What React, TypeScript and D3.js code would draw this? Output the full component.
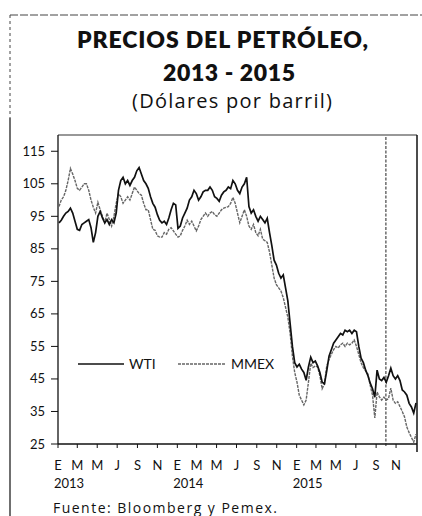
import React from "react";
import * as d3 from "d3";

const WTI: number[] = [
  93, 93.8, 95, 96, 96.5, 97.5, 96, 93.5, 91, 90.7,
  92.5, 93, 93.5, 94, 91.5, 87, 90, 95, 96.5, 94.5,
  93, 94, 92.5, 94, 93, 96, 103, 106, 107, 105,
  106, 104.5, 106, 107, 109, 110, 108, 106, 105, 103.6,
  101, 99, 97.8, 95.5, 93.8, 93, 93.5, 92.5, 94.5, 97,
  99, 98.5, 91.3, 92, 94.5, 96, 97.5, 100, 101, 103,
  102, 100, 101, 102.5, 103, 103, 104, 103, 101, 100.5,
  99.6, 101.5, 102.5, 103, 104, 103.5, 106, 105, 103, 102,
  104, 105, 107, 98, 96, 97, 95, 93.5, 95, 94,
  93, 94.4, 90, 86, 81.5, 80, 77.5, 76, 77, 73,
  69, 62, 55, 50, 48.7, 49.5, 48, 47, 44.6, 48.7,
  51.7, 50, 50.5, 49, 47, 44, 43.5, 47.5, 52, 54,
  56, 57, 58, 59, 58.5, 60, 59.5, 60, 59, 60,
  59.5, 55, 51.4, 50, 47.7, 46, 43.7, 42, 39.4, 47.7,
  45, 44.5, 45.5, 44, 46, 48.3, 46, 45, 46, 44.5,
  41.6, 41, 40, 37.5, 36.4, 34.5, 37.6,
];

const MMEX: number[] = [
  98, 100, 101, 103, 106, 109.7, 108, 106, 103.6, 103,
  104, 105, 105, 103, 100, 97.8, 96, 99.3, 97, 95,
  93, 96, 94, 92, 95, 99, 102, 101, 99, 100,
  101, 100, 102, 104, 103, 102, 101.5, 99, 97, 97,
  94, 91, 90.7, 89, 88.6, 88.6, 90, 89.5, 91, 91.5,
  90.5, 89.5, 88.6, 89, 90.7, 92, 93.8, 92.5, 93.5, 92,
  90.5, 92, 94, 95, 96, 95, 96, 96.5, 95.5, 95,
  96, 97, 97.5, 97.8, 98, 99, 100.8, 99, 96, 93,
  95, 97, 95, 92, 91, 92.5, 90, 89, 91, 88,
  87.5, 87, 84, 80, 76, 74, 73, 72, 70, 67,
  64, 59, 52, 47, 44, 40, 38.5, 37, 38.5, 44,
  49.8, 48.5, 49, 48.7, 46, 42, 43.5, 49, 51, 52.5,
  54, 55, 54.5, 55.5, 56, 55, 56, 55.5, 56, 57,
  55, 52.5, 50, 48.5, 47.5, 46.5, 43, 40, 33, 41,
  39.5, 38.5, 39.4, 38.5, 39, 42.2, 38.5, 37.5, 38, 36.5,
  35, 33.3, 30.2, 28.5, 27, 25.6, 28,
];

const Y_TICKS = [25, 35, 45, 55, 65, 75, 85, 95, 105, 115];
const MONTH_LABELS = ["E", "M", "M", "J", "S", "N"];
const YEARS = ["2013", "2014", "2015"];
const TITLE1 = "PRECIOS DEL PETRÓLEO,";
const TITLE2 = "2013 - 2015";
const SUBTITLE = "(Dólares por barril)";
const SOURCE = "Fuente: Bloomberg y Pemex.";
const MARKER_DATE = new Date(2015, 9, 1);

const FONT = "Lato, 'Open Sans', sans-serif";
const WIDE = "'Open Sans', Lato, sans-serif";

export default function App() {
  const left = 58, right = 416, top = 135, bottom = 444;
  const x = d3.scaleTime().domain([new Date(2013, 0, 1), new Date(2016, 0, 1)]).range([left, right]);
  const y = d3.scaleLinear().domain([25, 120]).range([bottom, top]);
  const start = new Date(2013, 0, 4);
  const dateAt = (i: number) => d3.timeDay.offset(start, i * 7);
  const line = d3.line<number>().x((_, i) => x(dateAt(i))).y((v) => y(v));
  const ticks = d3.timeMonth.every(2)!.range(new Date(2013, 0, 1), new Date(2016, 0, 1));

  return (
    <svg width={422} height={516} style={{ position: "absolute", left: 0, top: 0, background: "#fff" }} fontFamily={FONT}>
      {/* page border */}
      <line x1={10} y1={15} x2={422} y2={15} stroke="#444" strokeWidth={1} strokeDasharray="8,2" />
      <line x1={10} y1={15} x2={10} y2={118} stroke="#444" strokeWidth={1} strokeDasharray="3,3" />
      <line x1={10} y1={118} x2={10} y2={516} stroke="#222" strokeWidth={1.3} />

      <text x={77} y={48} fontSize={23} fontWeight={800} fill="#111" textLength={291} lengthAdjust="spacing">{TITLE1}</text>
      <text x={163} y={81} fontSize={23} fontWeight={800} fill="#111" textLength={132} lengthAdjust="spacing">{TITLE2}</text>
      <text x={132} y={108} fontSize={20} fontFamily={WIDE} fill="#111" textLength={200} lengthAdjust="spacing">{SUBTITLE}</text>

      {/* frame */}
      <line x1={left} y1={top} x2={right + 1} y2={top} stroke="#333" strokeWidth={1.2} />
      <line x1={right + 1} y1={top} x2={right + 1} y2={452} stroke="#111" strokeWidth={1.5} />
      <line x1={left} y1={top} x2={left} y2={bottom} stroke="#111" strokeWidth={1.3} />
      <line x1={left} y1={bottom} x2={right + 1} y2={bottom} stroke="#111" strokeWidth={1.3} />

      {Y_TICKS.map((t) => (
        <g key={t}>
          <line x1={51} x2={left} y1={y(t)} y2={y(t)} stroke="#111" strokeWidth={1} />
          <text x={45} y={y(t) + 4.5} textAnchor="end" fontSize={13} fill="#111">{t}</text>
        </g>
      ))}

      {ticks.map((d, i) => (
        <g key={i}>
          <line x1={x(d)} x2={x(d)} y1={bottom} y2={bottom + 4} stroke="#111" strokeWidth={1} />
          <text x={x(d)} y={470} textAnchor="middle" fontSize={13} fill="#111">{MONTH_LABELS[i % 6]}</text>
        </g>
      ))}
      {YEARS.map((yr, i) => (
        <text key={yr} x={x(new Date(2013 + i, 0, 1)) - 4} y={488} fontSize={13} fill="#111" textLength={30} lengthAdjust="spacing">{yr}</text>
      ))}

      {/* marker line */}
      <line x1={x(MARKER_DATE)} x2={x(MARKER_DATE)} y1={top + 2} y2={bottom + 3} stroke="#222" strokeWidth={1} strokeDasharray="3,1.5" />

      <path d={line(MMEX) || ""} fill="none" stroke="#666" strokeWidth={1.4} strokeDasharray="3,1" />
      <path d={line(WTI) || ""} fill="none" stroke="#111" strokeWidth={1.7} />

      {/* legend */}
      <line x1={78} x2={124} y1={364} y2={364} stroke="#111" strokeWidth={1.6} />
      <text x={129} y={369} fontSize={14} fill="#111">WTI</text>
      <line x1={178} x2={226} y1={364} y2={364} stroke="#666" strokeWidth={1.4} strokeDasharray="3,1" />
      <text x={231} y={369} fontSize={14} fill="#111">MMEX</text>

      <text x={53} y={513} fontSize={14} fontFamily={WIDE} fill="#111" textLength={224} lengthAdjust="spacing">{SOURCE}</text>
    </svg>
  );
}
